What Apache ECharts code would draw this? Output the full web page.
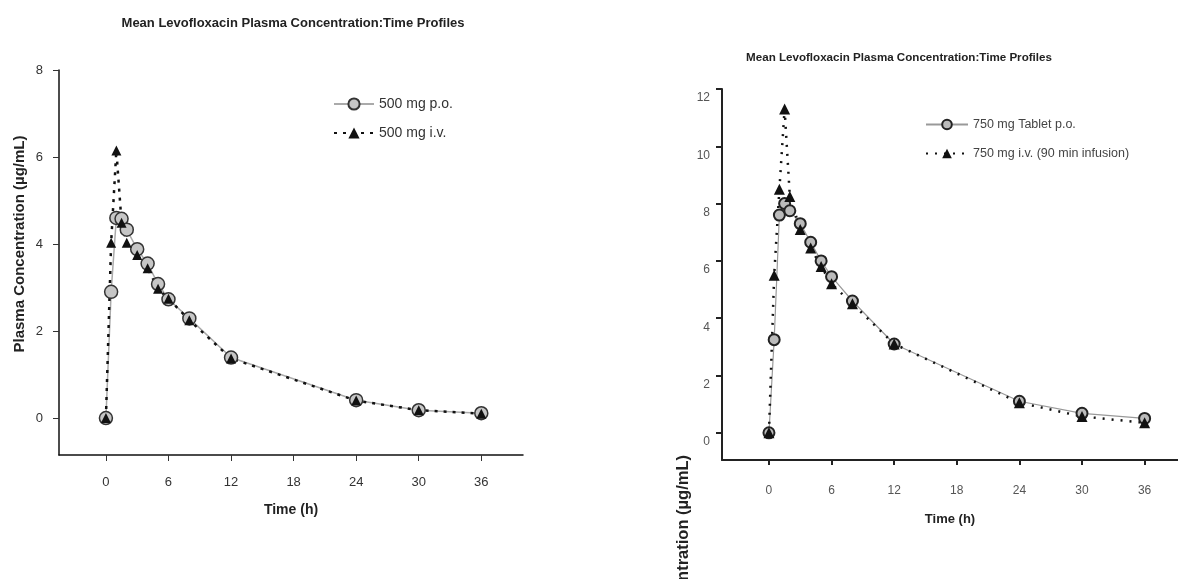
<!DOCTYPE html>
<html>
<head>
<meta charset="utf-8">
<title>Levofloxacin</title>
<script src="https://cdn.jsdelivr.net/npm/echarts@6/dist/echarts.min.js"></script>
<style>
  html, body { margin: 0; padding: 0; background: #fff; }
  #chart { width: 1178px; height: 579px; }
</style>
</head>
<body>
<div id="chart"></div>
<script>
// 左图 500 mg
var leftTime = [0, 0.5, 1, 1.5, 2, 3, 4, 5, 6, 8, 12, 24, 30, 36];
var leftPo = [0, 2.9, 4.6, 4.58, 4.33, 3.88, 3.55, 3.08, 2.73, 2.29, 1.39, 0.41, 0.18, 0.11];
var leftIv = [0, 4.03, 6.15, 4.49, 4.03, 3.75, 3.44, 2.97, 2.74, 2.25, 1.37, 0.4, 0.18, 0.1];
// 右图 750 mg
var rightTime = [0, 0.5, 1, 1.5, 2, 3, 4, 5, 6, 8, 12, 24, 30, 36];
var rightPo = [0, 3.25, 7.6, 8.0, 7.75, 7.3, 6.65, 6.0, 5.45, 4.6, 3.1, 1.1, 0.68, 0.5];
var rightIv = [0, 5.5, 8.5, 11.3, 8.25, 7.1, 6.45, 5.8, 5.2, 4.5, 3.1, 1.05, 0.57, 0.35];
// 刻度
var xTicks = [0, 6, 12, 18, 24, 30, 36];
var leftYTicks = [0, 2, 4, 6, 8];
var rightYTicks = [0, 2, 4, 6, 8, 10, 12];

var titleText = 'Mean Levofloxacin Plasma Concentration:Time Profiles';
var yName = 'Plasma Concentration (\u00b5g/mL)';

function pairs(t, v) {
    return t.map(function (x, i) { return [x, v[i]]; });
}

var font = 'Liberation Sans, Arial, sans-serif';
var narrow = 'Liberation Sans Narrow, Liberation Sans, Arial, sans-serif';

var option = {
    animation: false,
    backgroundColor: '#fff',
    title: [
        { text: titleText, left: 288, top: 12, textAlign: 'center',
          textStyle: { fontFamily: font, fontSize: 13, fontWeight: 'bold', color: '#222' } },
        { text: titleText, left: 894, top: 47, textAlign: 'center',
          textStyle: { fontFamily: font, fontSize: 11.6, fontWeight: 'bold', color: '#222' } }
    ],
    legend: [
        { left: 328, top: 92, orient: 'vertical', itemWidth: 40, itemHeight: 14, itemGap: 15,
          data: ['500 mg p.o.', '500 mg i.v.'],
          textStyle: { fontFamily: font, fontSize: 14, color: '#333' } },
        { left: 920, top: 113, orient: 'vertical', itemWidth: 42, itemHeight: 12, itemGap: 16,
          data: ['750 mg Tablet p.o.', '750 mg i.v. (90 min infusion)'],
          textStyle: { fontFamily: narrow, fontSize: 12.5, color: '#444' } }
    ],
    grid: [
        { left: 59, top: 70, width: 464, height: 385 },
        { left: 722, top: 89, width: 456, height: 371 }
    ],
    xAxis: [
        { type: 'value', gridIndex: 0, min: -4.5, max: 40,
          name: 'Time (h)', nameLocation: 'middle', nameGap: 48,
          nameTextStyle: { fontFamily: font, fontSize: 14, fontWeight: 'bold', color: '#222' },
          axisLine: { onZero: false, lineStyle: { color: '#111', width: 1.5 } },
          axisTick: { customValues: xTicks, length: 6, lineStyle: { color: '#333' } },
          axisLabel: { customValues: xTicks, margin: 21, fontFamily: font, fontSize: 13, color: '#333' },
          splitLine: { show: false } },
        { type: 'value', gridIndex: 1, min: -4.5, max: 39.2,
          name: 'Time (h)', nameLocation: 'middle', nameGap: 53,
          nameTextStyle: { fontFamily: narrow, fontSize: 13, fontWeight: 'bold', color: '#222' },
          axisLine: { onZero: false, lineStyle: { color: '#222', width: 2 } },
          axisTick: { customValues: xTicks, length: 5, lineStyle: { color: '#222', width: 2 } },
          axisLabel: { customValues: xTicks, margin: 25, fontFamily: narrow, fontSize: 12, color: '#555' },
          splitLine: { show: false } }
    ],
    yAxis: [
        { type: 'value', gridIndex: 0, min: -0.85, max: 8,
          axisLine: { show: true, onZero: false, lineStyle: { color: '#111', width: 1.5 } },
          axisTick: { show: true, customValues: leftYTicks, length: 6, lineStyle: { color: '#333' } },
          axisLabel: { customValues: leftYTicks, margin: 16, fontFamily: font, fontSize: 13, color: '#333' },
          splitLine: { show: false } },
        { type: 'value', gridIndex: 1, min: -0.95, max: 12,
          axisLine: { show: true, onZero: false, lineStyle: { color: '#222', width: 2 } },
          axisTick: { show: true, customValues: rightYTicks, length: 6, lineStyle: { color: '#222', width: 2 } },
          axisLabel: { customValues: rightYTicks, margin: 12, verticalAlign: 'top', padding: [3, 0, 0, 0],
                       fontFamily: narrow, fontSize: 12, color: '#555' },
          splitLine: { show: false } }
    ],
    graphic: [
        { type: 'text', x: 20, y: 244, rotation: Math.PI / 2,
          style: { text: yName, fontFamily: font, fontSize: 15, fontWeight: 'bold', fill: '#222',
                   align: 'center', verticalAlign: 'middle' } },
        { type: 'text', x: 683, y: 455, rotation: Math.PI / 2,
          style: { text: yName, fontFamily: narrow, fontSize: 16.5, fontWeight: 'bold', fill: '#222',
                   align: 'right', verticalAlign: 'middle' } }
    ],
    series: [
        { name: '500 mg p.o.', type: 'line', xAxisIndex: 0, yAxisIndex: 0,
          data: pairs(leftTime, leftPo), symbol: 'circle', symbolSize: 13,
          lineStyle: { color: '#aaa', width: 1.5 },
          itemStyle: { color: '#c6c6c6', borderColor: '#333', borderWidth: 1.5 } },
        { name: '500 mg i.v.', type: 'line', xAxisIndex: 0, yAxisIndex: 0,
          data: pairs(leftTime, leftIv), symbol: 'triangle', symbolSize: 10,
          lineStyle: { color: '#111', width: 2.5, type: [3, 6] },
          itemStyle: { color: '#111' } },
        { name: '750 mg Tablet p.o.', type: 'line', xAxisIndex: 1, yAxisIndex: 1,
          data: pairs(rightTime, rightPo), symbol: 'circle', symbolSize: 11,
          lineStyle: { color: '#999', width: 1.2 },
          itemStyle: { color: '#bbb', borderColor: '#222', borderWidth: 2 } },
        { name: '750 mg i.v. (90 min infusion)', type: 'line', xAxisIndex: 1, yAxisIndex: 1,
          data: pairs(rightTime, rightIv), symbol: 'triangle', symbolSize: 11,
          lineStyle: { color: '#111', width: 2.5, type: [2, 7] },
          itemStyle: { color: '#111' } }
    ]
};

var mychart = echarts.init(document.getElementById('chart'));
mychart.setOption(option);
</script>
</body>
</html>
